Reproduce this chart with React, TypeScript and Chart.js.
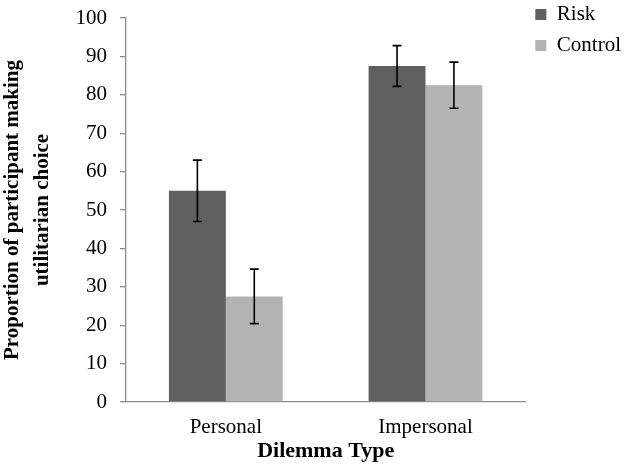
import { useEffect, useRef } from "react";
import { Chart, registerables, ChartConfiguration, Plugin } from "chart.js";

Chart.register(...registerables);

// values
const categories = ["Personal", "Impersonal"];
const riskValues = [55, 87.5];
const controlValues = [27.5, 82.5];
const riskErrors = [8, 5.3];
const controlErrors = [7.1, 6];
const yTicks = [0, 10, 20, 30, 40, 50, 60, 70, 80, 90, 100];

const errorsByDataset = [riskErrors, controlErrors];

const FONT = "'Liberation Serif', 'Times New Roman', serif";
const AXIS_GREY = "#8c8c8c";

// draws the whisker + caps on each bar, using the y scale
const errorBarPlugin: Plugin<"bar"> = {
    id: "errorBars",
    afterDatasetsDraw(chart) {
        const { ctx } = chart;
        const y = chart.scales.y;
        chart.data.datasets.forEach((ds, i) => {
            const meta = chart.getDatasetMeta(i);
            const errs = errorsByDataset[i];
            meta.data.forEach((bar, j) => {
                const v = ds.data[j] as number;
                const e = errs[j];
                const top = y.getPixelForValue(v + e);
                const bot = y.getPixelForValue(v - e);
                const x = bar.x;
                ctx.save();
                ctx.strokeStyle = "#000";
                ctx.lineWidth = 1.6;
                ctx.beginPath();
                ctx.moveTo(x, top);
                ctx.lineTo(x, bot);
                ctx.moveTo(x - 4.5, top);
                ctx.lineTo(x + 4.5, top);
                ctx.moveTo(x - 4.5, bot);
                ctx.lineTo(x + 4.5, bot);
                ctx.stroke();
                ctx.restore();
            });
        });
    },
};

export default function App() {
    const canvasRef = useRef<HTMLCanvasElement>(null);
    const chartRef = useRef<Chart | null>(null);

    useEffect(() => {
        document.body.style.margin = "0";
        if (!canvasRef.current) return;
        if (chartRef.current) chartRef.current.destroy();

        const ctx = canvasRef.current.getContext("2d");
        if (!ctx) return;

        const config: ChartConfiguration<"bar"> = {
            type: "bar",
            data: {
                labels: categories,
                datasets: [
                    {
                        label: "Risk",
                        data: riskValues,
                        backgroundColor: "#606060",
                        categoryPercentage: 0.57,
                        barPercentage: 1,
                    },
                    {
                        label: "Control",
                        data: controlValues,
                        backgroundColor: "#b3b3b3",
                        categoryPercentage: 0.57,
                        barPercentage: 1,
                    },
                ],
            },
            options: {
                animation: false,
                responsive: true,
                maintainAspectRatio: false,
                layout: { padding: { top: -6, right: -7, bottom: 0, left: 0 } },
                plugins: {
                    legend: {
                        position: "right",
                        align: "start",
                        labels: {
                            boxWidth: 11,
                            boxHeight: 11,
                            padding: 10,
                            color: "#000",
                            font: { family: FONT, size: 21 },
                        },
                    },
                    tooltip: { enabled: false },
                },
                scales: {
                    x: {
                        offset: true,
                        grid: { display: false, drawTicks: false },
                        border: { display: true, color: AXIS_GREY, width: 1.3 },
                        ticks: {
                            color: "#000",
                            padding: 13,
                            font: { family: FONT, size: 21 },
                        },
                        title: {
                            display: true,
                            text: "Dilemma Type",
                            color: "#000",
                            padding: { top: 0, bottom: 6 },
                            font: { family: FONT, size: 22, weight: "bold" },
                        },
                        afterFit: (s) => {
                            s.height = 69;
                        },
                    },
                    y: {
                        min: 0,
                        max: 100,
                        afterBuildTicks: (s) => {
                            s.ticks = yTicks.map((v) => ({ value: v }));
                        },
                        grid: {
                            display: true,
                            drawOnChartArea: false,
                            drawTicks: true,
                            tickLength: 6,
                            color: AXIS_GREY,
                            lineWidth: 1.3,
                        },
                        border: { display: true, color: AXIS_GREY, width: 1.3 },
                        ticks: {
                            color: "#000",
                            padding: 13,
                            font: { family: FONT, size: 21 },
                        },
                        title: {
                            display: true,
                            text: ["Proportion of participant making", "utilitarian choice"],
                            color: "#000",
                            padding: { top: -2, bottom: 0 },
                            font: { family: FONT, size: 21, weight: "bold", lineHeight: 1.4 },
                        },
                        afterFit: (s) => {
                            s.width = 126;
                            s.paddingTop = 18;
                        },
                    },
                },
            },
            plugins: [errorBarPlugin],
        };

        chartRef.current = new Chart(ctx, config);

        return () => {
            if (chartRef.current) {
                chartRef.current.destroy();
                chartRef.current = null;
            }
        };
    }, []);

    return (
        <div style={{ width: "624px", height: "471px", position: "relative" }}>
            <canvas ref={canvasRef} />
        </div>
    );
}
